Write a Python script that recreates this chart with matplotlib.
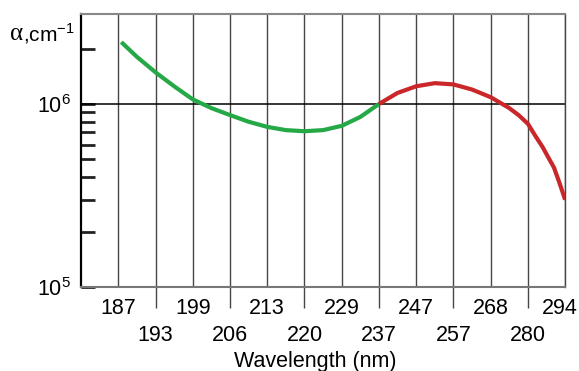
import matplotlib.pyplot as plt
import matplotlib.transforms as mtransforms
from matplotlib.ticker import FixedLocator, FixedFormatter, NullFormatter

plt.rcParams['font.family'] = ['Liberation Sans', 'DejaVu Sans']
plt.rcParams['mathtext.fontset'] = 'custom'
plt.rcParams['mathtext.rm'] = 'Liberation Sans'

# photon energy (eV) of each tick and the wavelength (nm) it is labelled with
tick_ev = [6.6, 6.4, 6.2, 6.0, 5.8, 5.6, 5.4, 5.2, 5.0, 4.8, 4.6, 4.4, 4.2]
tick_nm = ['187', '193', '199', '206', '213', '220', '229', '237', '247', '257', '268', '280', '294']
minor_y = [2e5, 3e5, 4e5, 5e5, 6e5, 7e5, 8e5, 9e5, 2e6]

# absorption coefficient
green_ev = [6.584, 6.5, 6.4, 6.3, 6.2, 6.1, 6.0, 5.9, 5.8, 5.7, 5.6, 5.5, 5.4, 5.3, 5.2]
green_alpha = [2.18e6, 1.81e6, 1.49e6, 1.25e6, 1.06e6, 0.95e6, 0.87e6, 0.80e6, 0.75e6,
               0.72e6, 0.71e6, 0.72e6, 0.76e6, 0.85e6, 1.0e6]
red_ev = [5.2, 5.1, 5.0, 4.9, 4.8, 4.7, 4.6, 4.5, 4.45, 4.4, 4.36, 4.32, 4.29, 4.26, 4.23, 4.2]
red_alpha = [1.0e6, 1.15e6, 1.25e6, 1.30e6, 1.28e6, 1.20e6, 1.09e6, 0.95e6, 0.87e6, 0.78e6,
             0.67e6, 0.58e6, 0.51e6, 0.45e6, 0.37e6, 0.30e6]

fig = plt.figure(figsize=(5.79, 3.71), dpi=100)
ax = fig.add_axes([0.14, 0.2264, 0.836, 0.7359])

ax.set_yscale('log')
ax.set_xlim(6.8, 4.2)
ax.set_ylim(1e5, 10 ** 6.492)

ax.plot(green_ev, green_alpha, color='#25a846', lw=3, solid_capstyle='butt',
        solid_joinstyle='round', zorder=3)
ax.plot(red_ev, red_alpha, color='#c9272a', lw=3, solid_capstyle='butt',
        solid_joinstyle='round', zorder=3)

ax.axhline(1e6, color='black', lw=1.1, zorder=2)

# staggered wavelength labels: first row as major ticks, second row as minor
ax.xaxis.set_major_locator(FixedLocator(tick_ev[0::2]))
ax.xaxis.set_major_formatter(FixedFormatter(tick_nm[0::2]))
ax.xaxis.set_minor_locator(FixedLocator(tick_ev[1::2]))
ax.xaxis.set_minor_formatter(FixedFormatter(tick_nm[1::2]))
ax.tick_params(axis='x', which='major', length=0, pad=8, labelsize=15.5)
ax.tick_params(axis='x', which='minor', direction='out', length=15, width=1,
               color='#4a4444', pad=12, labelsize=15.5)
ax.grid(True, axis='x', which='both', color='#4a4444', lw=1)

ax.yaxis.set_major_locator(FixedLocator([1e5, 1e6]))
ax.yaxis.set_major_formatter(FixedFormatter([r'$\mathregular{10^5}$', r'$\mathregular{10^6}$']))
ax.yaxis.set_minor_locator(FixedLocator(minor_y))
ax.yaxis.set_minor_formatter(NullFormatter())
ax.tick_params(axis='y', which='both', direction='in', length=10, width=2,
               color='#222222', labelsize=15.5, pad=7)

ax.spines['left'].set_color('black')
ax.spines['left'].set_linewidth(1.6)
ax.spines['bottom'].set_color('#777777')
ax.spines['bottom'].set_linewidth(1.5)
ax.spines['top'].set_color('#888888')
ax.spines['top'].set_linewidth(1.5)
ax.spines['right'].set_color('#4a4444')
ax.spines['right'].set_linewidth(1)

ax.set_xlabel('Wavelength (nm)', fontsize=15.5)
ax.xaxis.set_label_coords(0.483, -0.272)
ax.xaxis.label.set_va('center')

# the last label sits a little left of its line so it fits in the figure
last = ax.xaxis.get_majorticklabels()[-1]
last.set_transform(last.get_transform() +
                   mtransforms.ScaledTranslation(-5 / 100, 0, fig.dpi_scale_trans))

fig.text(10 / 579, 1 - 34 / 371, 'α', family='Liberation Serif', fontsize=18, va='center')
fig.text(23 / 579, 1 - 34 / 371, r',cm$^{\mathregular{-1}}$', fontsize=15, va='center')

fig.savefig('out.png', dpi=100)
